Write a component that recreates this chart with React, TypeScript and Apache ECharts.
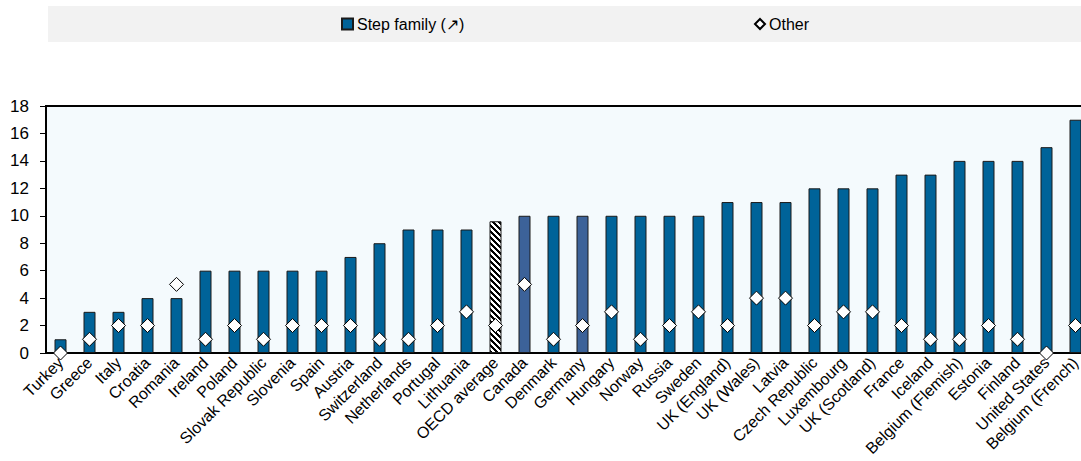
import React, { useEffect, useRef } from "react";
import * as echarts from "echarts";

const categories = [
  "Turkey", "Greece", "Italy", "Croatia", "Romania", "Ireland", "Poland", "Slovak Republic",
  "Slovenia", "Spain", "Austria", "Switzerland", "Netherlands", "Portugal", "Lithuania",
  "OECD average", "Canada", "Denmark", "Germany", "Hungary", "Norway", "Russia", "Sweden",
  "UK (England)", "UK (Wales)", "Latvia", "Czech Republic", "Luxembourg", "UK (Scotland)",
  "France", "Iceland", "Belgium (Flemish)", "Estonia", "Finland", "United States", "Belgium (French)",
];
const stepFamily = [
  1, 3, 3, 4, 4, 6, 6, 6, 6, 6, 7, 8, 9, 9, 9, 9.6, 10, 10, 10, 10, 10, 10, 10, 11, 11, 11, 12, 12,
  12, 13, 13, 14, 14, 14, 15, 17,
];
const other = [
  0, 1, 2, 2, 5, 1, 2, 1, 2, 2, 2, 1, 1, 2, 3, 2, 5, 1, 2, 3, 1, 2, 3, 2, 4, 4, 2, 3, 3, 2, 1, 1,
  2, 1, 0, 2,
];
const highlighted = ["Canada", "Germany"];
const averageName = "OECD average";
const yTicks = { min: 0, max: 18, interval: 2 };

const FONT = "'Liberation Sans', Arial, sans-serif";
const FS = 16;
const MAIN = "#006399";
const ALT = "#3c6299";

function makeHatch(): HTMLCanvasElement {
  const c = document.createElement("canvas");
  c.width = 6;
  c.height = 6;
  const ctx = c.getContext("2d")!;
  const img = ctx.createImageData(6, 6);
  for (let y = 0; y < 6; y++) {
    for (let x = 0; x < 6; x++) {
      const black = (((x - y) % 6) + 6) % 6 < 3;
      const i = (y * 6 + x) * 4;
      const v = black ? 0 : 255;
      img.data[i] = v;
      img.data[i + 1] = v;
      img.data[i + 2] = v;
      img.data[i + 3] = 255;
    }
  }
  ctx.putImageData(img, 0, 0);
  return c;
}

export default function App() {
  const ref = useRef<HTMLDivElement>(null);
  useEffect(() => {
    if (!ref.current) return;
    const chart = echarts.init(ref.current, null, { renderer: "svg" });
    const hatch = makeHatch();
    const barData = categories.map((c, i) => {
      if (c === averageName) {
        return {
          value: stepFamily[i],
          itemStyle: { color: { image: hatch, repeat: "repeat" } as any },
        };
      }
      if (highlighted.includes(c)) {
        return { value: stepFamily[i], itemStyle: { color: ALT } };
      }
      return stepFamily[i];
    });
    chart.setOption({
      animation: false,
      textStyle: { fontFamily: FONT, color: "#000" },
      graphic: [
        {
          type: "rect",
          z: 0,
          shape: { x: 48, y: 6, width: 1100, height: 36 },
          style: { fill: "#f2f2f2" },
        },
      ],
      legend: [
        {
          data: ["Step family (↗)"],
          left: 341,
          top: 16,
          padding: 0,
          icon: "rect",
          itemWidth: 11,
          itemHeight: 11,
          itemGap: 5,
          textStyle: { fontFamily: FONT, fontSize: FS, color: "#000", padding: [0, 0, 0, -1] },
        },
        {
          data: ["Other"],
          left: 754,
          top: 16,
          padding: 0,
          icon: "diamond",
          itemWidth: 10,
          itemHeight: 10,
          textStyle: { fontFamily: FONT, fontSize: FS, color: "#000", padding: [0, 0, 0, -1] },
        },
      ],
      grid: {
        left: 46,
        top: 106,
        width: 1044,
        height: 247,
        show: true,
        outerBoundsMode: "none",
        containLabel: false,
        backgroundColor: "#f4fafd",
        borderColor: "#000",
        borderWidth: 2,
      } as any,
      xAxis: {
        type: "category",
        data: categories,
        axisLine: { lineStyle: { color: "#000", width: 2 } },
        axisTick: { inside: true, length: 5, lineStyle: { color: "#000", width: 1 } },
        axisLabel: {
          interval: 0,
          rotate: 45,
          fontSize: 16,
          fontFamily: FONT,
          color: "#000",
          margin: 7,
        },
      },
      yAxis: {
        type: "value",
        min: yTicks.min,
        max: yTicks.max,
        interval: yTicks.interval,
        axisLine: { show: true, lineStyle: { color: "#000", width: 2 } },
        axisTick: { show: true, length: 6, lineStyle: { color: "#000", width: 1 } },
        splitLine: { show: false },
        axisLabel: { fontSize: 17, fontFamily: FONT, color: "#000", margin: 17 },
      },
      series: [
        {
          name: "Step family (↗)",
          type: "bar",
          barWidth: 12,
          data: barData,
          itemStyle: { color: MAIN, borderColor: "#1a1a1a", borderWidth: 1 },
        },
        {
          name: "Other",
          type: "scatter",
          symbol: "diamond",
          symbolSize: 14,
          clip: false,
          z: 5,
          data: other,
          itemStyle: { color: "#fff", borderColor: "#000", borderWidth: 1, opacity: 1 },
        },
      ],
    });
    return () => chart.dispose();
  }, []);
  return (
    <div
      style={{
        position: "fixed",
        left: 0,
        top: 0,
        width: 1081,
        height: 461,
        overflow: "hidden",
        background: "#fff",
      }}
    >
      <div ref={ref} style={{ width: 1100, height: 461 }} />
    </div>
  );
}
